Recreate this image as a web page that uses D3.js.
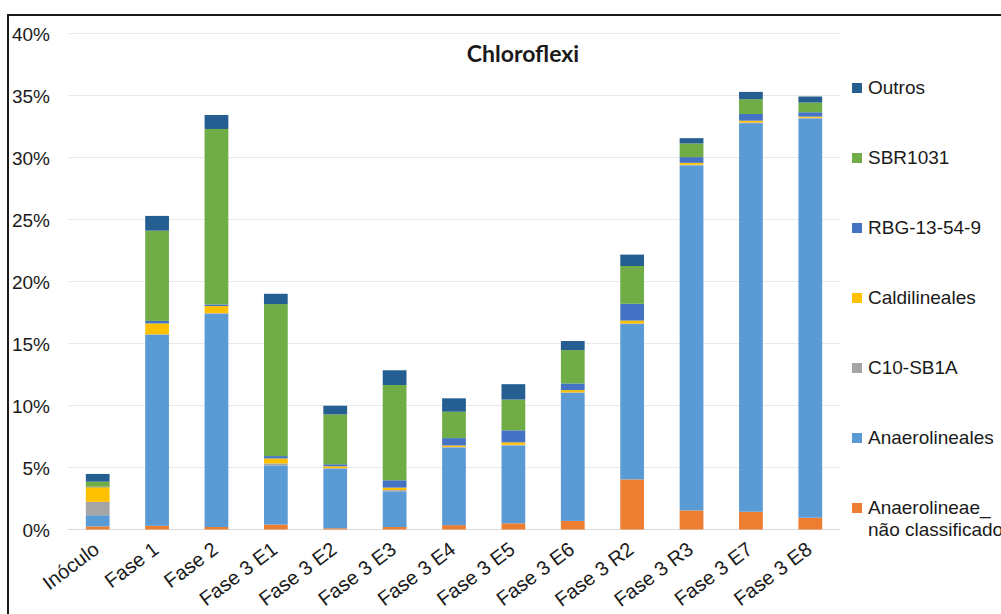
<!DOCTYPE html>
<html>
<head>
<meta charset="utf-8">
<script src="https://cdn.jsdelivr.net/npm/d3@7"></script>
<style>
  html, body { margin: 0; padding: 0; background: #fff; }
  svg { display: block; }
  text { font-family: "Liberation Sans", Arial, sans-serif; fill: #1a1a1a; }
</style>
</head>
<body>
<svg id="chart" width="1001" height="614"></svg>
<script>
// Chloroflexi relative abundance (%) per sample, stacked by order
const categories = ["Inóculo", "Fase 1", "Fase 2", "Fase 3 E1", "Fase 3 E2", "Fase 3 E3",
  "Fase 3 E4", "Fase 3 E5", "Fase 3 E6", "Fase 3 R2", "Fase 3 R3", "Fase 3 E7", "Fase 3 E8"];

const anaerolineaeNC = [0.25, 0.30, 0.20, 0.40, 0.10, 0.20, 0.35, 0.50, 0.69, 4.04, 1.54, 1.43, 0.95];
const anaerolineales = [0.90, 15.40, 17.20, 4.77, 4.80, 2.88, 6.26, 6.28, 10.32, 12.53, 27.83, 31.34, 32.20];
const c10SB1A        = [1.08, 0.05, 0.05, 0.16, 0.05, 0.10, 0.05, 0.05, 0.05, 0.05, 0.05, 0.05, 0.05];
const caldilineales  = [1.18, 0.87, 0.57, 0.40, 0.15, 0.20, 0.12, 0.20, 0.18, 0.23, 0.15, 0.15, 0.10];
const rbg13549       = [0.05, 0.20, 0.13, 0.19, 0.16, 0.59, 0.59, 0.97, 0.54, 1.35, 0.46, 0.54, 0.35];
const sbr1031        = [0.40, 7.28, 14.15, 12.26, 4.02, 7.68, 2.13, 2.48, 2.69, 3.05, 1.10, 1.19, 0.78];
const outros         = [0.62, 1.19, 1.13, 0.83, 0.70, 1.19, 1.08, 1.24, 0.73, 0.92, 0.43, 0.59, 0.49];

const yTicks = [0, 5, 10, 15, 20, 25, 30, 35, 40];

// stacking order, bottom to top
const series = [
  { key: "nc",   label: ["Anaerolineae_", "não classificado"], values: anaerolineaeNC, color: "#ED7D31" },
  { key: "anl",  label: ["Anaerolineales"], values: anaerolineales, color: "#5B9BD5" },
  { key: "c10",  label: ["C10-SB1A"],       values: c10SB1A,        color: "#A5A5A5" },
  { key: "cal",  label: ["Caldilineales"],  values: caldilineales,  color: "#FFC000" },
  { key: "rbg",  label: ["RBG-13-54-9"],    values: rbg13549,       color: "#4472C4" },
  { key: "sbr",  label: ["SBR1031"],        values: sbr1031,        color: "#70AD47" },
  { key: "out",  label: ["Outros"],         values: outros,         color: "#255E91" }
];

const rows = categories.map((c, i) => {
  const r = { cat: c };
  series.forEach(s => { r[s.key] = s.values[i]; });
  return r;
});

const svg = d3.select("#chart");

// outer frame
svg.append("rect")
  .attr("x", 8).attr("y", 15)
  .attr("width", 1100).attr("height", 700)
  .attr("fill", "#fff")
  .attr("stroke", "#1a1a1a").attr("stroke-width", 2);

const plot = { left: 68, right: 840, top: 33.5, bottom: 529.5 };

const x = d3.scaleBand()
  .domain(categories)
  .range([plot.left, plot.right])
  .paddingInner(0.6)
  .paddingOuter(0.3);

const y = d3.scaleLinear()
  .domain([0, 40])
  .range([plot.bottom, plot.top]);

// gridlines
svg.append("g")
  .selectAll("line")
  .data(yTicks)
  .join("line")
  .attr("x1", plot.left).attr("x2", plot.right)
  .attr("y1", d => y(d)).attr("y2", d => y(d))
  .attr("stroke", d => d === 0 ? "#d9d9d9" : "#e8e8e8")
  .attr("stroke-width", 1.2);

// y tick labels
svg.append("g")
  .selectAll("text")
  .data(yTicks)
  .join("text")
  .attr("x", 50)
  .attr("y", d => y(d) + 7)
  .attr("text-anchor", "end")
  .attr("font-size", 19)
  .text(d => d + "%");

// stacked bars
const stack = d3.stack().keys(series.map(s => s.key));
const layers = stack(rows);

svg.append("g")
  .selectAll("g")
  .data(layers)
  .join("g")
  .attr("fill", (d, i) => series[i].color)
  .selectAll("rect")
  .data(d => d)
  .join("rect")
  .attr("x", d => x(d.data.cat))
  .attr("width", x.bandwidth())
  .attr("y", d => y(d[1]))
  .attr("height", d => Math.max(0, y(d[0]) - y(d[1])));

// category labels
svg.append("g")
  .selectAll("text")
  .data(categories)
  .join("text")
  .attr("text-anchor", "end")
  .attr("font-size", 20)
  .attr("transform", d => `translate(${x(d) + x.bandwidth() / 2 + 3},552) rotate(-37)`)
  .text(d => d);

// title
svg.append("text")
  .attr("x", 523).attr("y", 62)
  .attr("text-anchor", "middle")
  .attr("font-size", 23)
  .attr("font-weight", "bold")
  .style("font-family", "Lato, 'Liberation Sans', sans-serif")
  .text("Chloroflexi");

// legend (top to bottom: reverse of stacking order)
const legendItems = series.slice().reverse();
const legend = svg.append("g")
  .selectAll("g")
  .data(legendItems)
  .join("g")
  .attr("transform", (d, i) => `translate(852,${88 + i * 70})`);

legend.append("rect")
  .attr("x", 0).attr("y", -5)
  .attr("width", 10).attr("height", 10)
  .attr("fill", d => d.color);

legend.append("text")
  .attr("x", 16)
  .attr("y", 6)
  .attr("font-size", 19)
  .selectAll("tspan")
  .data(d => d.label)
  .join("tspan")
  .attr("x", 16)
  .attr("dy", (d, i) => i === 0 ? 0 : 21.5)
  .text(d => d);
</script>
</body>
</html>
